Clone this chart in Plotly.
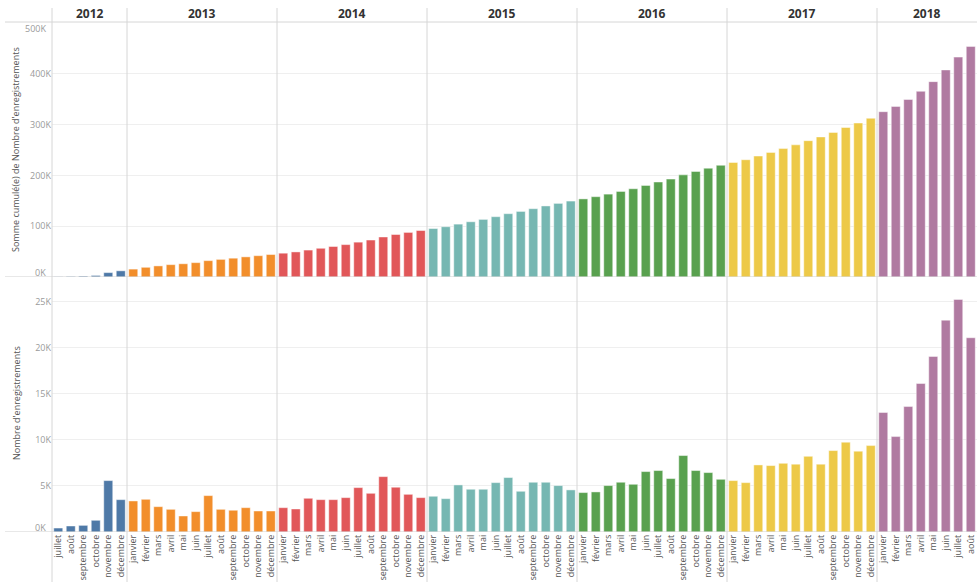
import numpy as np
import plotly.graph_objects as go

# ---------------- data ----------------
years = ["2012", "2013", "2014", "2015", "2016", "2017", "2018"]
month_names = ["janvier", "février", "mars", "avril", "mai", "juin", "juillet",
               "août", "septembre", "octobre", "novembre", "décembre"]
first_month = {"2012": 7}   # data start in July 2012
last_month = {"2018": 8}    # data end in August 2018

counts_2012 = [430, 650, 720, 1270, 5580, 3510]
counts_2013 = [3370, 3550, 2750, 2460, 1740, 2210, 3950, 2460, 2360, 2640, 2280, 2280]
counts_2014 = [2640, 2500, 3660, 3510, 3510, 3730, 4820, 4200, 6010, 4860, 4090, 3730]
counts_2015 = [3880, 3620, 5110, 4640, 4640, 5360, 5910, 4420, 5400, 5400, 5040, 4570]
counts_2016 = [4280, 4350, 5040, 5400, 5180, 6560, 6670, 5800, 8300, 6670, 6450, 5720]
counts_2017 = [5580, 5360, 7280, 7210, 7460, 7360, 8220, 7360, 8840, 9750, 8770, 9380]
counts_2018 = [12970, 10360, 13620, 16120, 19060, 23000, 25250, 21090]
counts_by_year = [counts_2012, counts_2013, counts_2014, counts_2015,
                  counts_2016, counts_2017, counts_2018]

year_colors = ["#4e79a7", "#f28e2b", "#e15759", "#76b7b2", "#59a14f", "#edc948", "#b07aa1"]

top_ticks = [100000, 200000, 300000, 400000]
top_ticktext = ["100K", "200K", "300K", "400K"]
bot_ticks = [5000, 10000, 15000, 20000, 25000]
bot_ticktext = ["5K", "10K", "15K", "20K", "25K"]

# ---------------- build series ----------------
labels, colors, counts, year_start, year_len = [], [], [], [], []
for yi, (yr, vals) in enumerate(zip(years, counts_by_year)):
    m0 = first_month.get(yr, 1)
    year_start.append(len(counts))
    year_len.append(len(vals))
    for k, v in enumerate(vals):
        labels.append(month_names[m0 - 1 + k])
        colors.append(year_colors[yi])
        counts.append(v)
xs = list(range(len(counts)))
cumul = np.cumsum(counts)
N = len(counts)

FONT = "Open Sans"
bar_line = dict(color="rgba(255,255,255,0.45)", width=1)

fig = go.Figure()
fig.add_bar(x=xs, y=cumul, marker=dict(color=colors, line=bar_line), width=0.72,
            xaxis="x", yaxis="y", showlegend=False)
fig.add_bar(x=xs, y=counts, marker=dict(color=colors, line=bar_line), width=0.72,
            xaxis="x2", yaxis="y2", showlegend=False)

W, H = 977, 582
ml, mr, mt, mb = 52, 0, 23, 50
pw, ph = W - ml - mr, H - mt - mb
def px(xpix):
    return (xpix - ml) / pw
def py(ypix):
    return (H - mb - ypix) / ph

axis_common = dict(range=[-0.5, N - 0.5], showgrid=False, zeroline=False,
                   showline=False, fixedrange=True)
fig.update_layout(
    width=W, height=H,
    margin=dict(l=ml, r=mr, t=mt, b=mb),
    paper_bgcolor="white", plot_bgcolor="white",
    bargap=0.28,
    font=dict(family=FONT, size=9, color="#666"),
    xaxis=dict(**axis_common, anchor="y", showticklabels=False, domain=[0, 1]),
    xaxis2=dict(**axis_common, anchor="y2", domain=[0, 1], tickmode="array",
                tickvals=xs, ticktext=labels, tickangle=-90, ticks="",
                tickfont=dict(size=9, color="#555"), automargin=False),
    yaxis=dict(domain=[py(277), 1], range=[0, 500000], tickmode="array",
               tickvals=top_ticks, ticktext=top_ticktext, showgrid=True,
               gridcolor="#efefef", zeroline=False, ticks="",
               tickfont=dict(size=9, color="#9a9a9a"), automargin=False, fixedrange=True),
    yaxis2=dict(domain=[0, py(278)], range=[0, (531.7 - 278) / 9.2 * 1000], tickmode="array",
                tickvals=bot_ticks, ticktext=bot_ticktext, showgrid=True,
                gridcolor="#efefef", zeroline=False, ticks="",
                tickfont=dict(size=9, color="#9a9a9a"), automargin=False, fixedrange=True),
)

shapes = []
# year separators
for s in year_start:
    shapes.append(dict(type="line", xref="paper", yref="paper", x0=s / N, x1=s / N,
                       y0=py(8), y1=py(H + 5), line=dict(color="#d6d6d6", width=1)))
# header line
shapes.append(dict(type="line", xref="paper", yref="paper", x0=px(5), x1=1,
                   y0=py(22), y1=py(22), line=dict(color="#d6d6d6", width=1)))
# baselines
shapes.append(dict(type="line", xref="paper", yref="y", x0=px(5), x1=1, y0=0, y1=0,
                   line=dict(color="#d0d0d0", width=1)))
shapes.append(dict(type="line", xref="paper", yref="y2", x0=px(5), x1=1, y0=0, y1=0,
                   line=dict(color="#d0d0d0", width=1)))
fig.update_layout(shapes=shapes)

ann = []
for yr, s, n in zip(years, year_start, year_len):
    ann.append(dict(text="<b>" + yr + "</b>", xref="paper", yref="paper",
                    x=(s + n / 2) / N, y=py(14), showarrow=False, xanchor="center",
                    yanchor="middle", font=dict(size=12, color="#333", family=FONT)))
ann.append(dict(text="Somme cumulé(e) de Nombre d'enregistrements", xref="paper", yref="paper",
                x=px(16), y=py(150), textangle=-90, showarrow=False, xanchor="center",
                yanchor="middle", font=dict(size=9, color="#555", family=FONT)))
ann.append(dict(text="Nombre d'enregistrements", xref="paper", yref="paper",
                x=px(16), y=py(403), textangle=-90, showarrow=False, xanchor="center",
                yanchor="middle", font=dict(size=9, color="#555", family=FONT)))
edge_labels = [("500K", "y", 500000, -5), ("0K", "y", 0, 5), ("0K", "y2", 0, 5)]
for t, yr_ref, val, sh in edge_labels:
    ann.append(dict(text=t, xref="paper", yref=yr_ref, x=px(48), y=val, yshift=sh,
                    showarrow=False, xanchor="right", yanchor="middle",
                    font=dict(size=9, color="#9a9a9a", family=FONT)))
fig.update_layout(annotations=ann)

fig.write_html("out.html", config={"displayModeBar": False},
               post_script="document.body.style.margin='0';document.body.style.overflow='hidden';")
